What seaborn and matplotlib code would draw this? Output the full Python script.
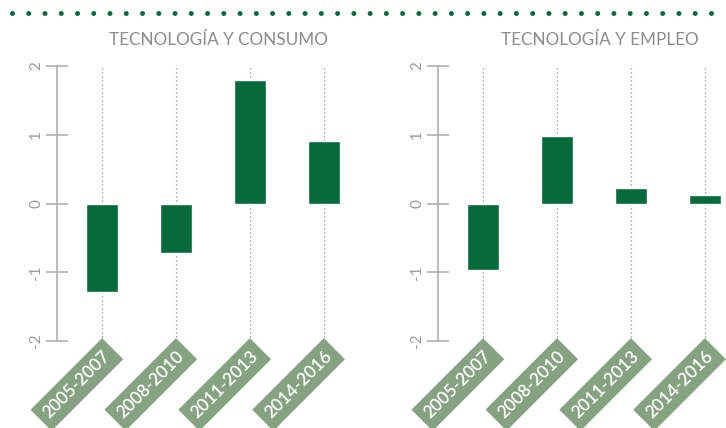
import numpy as np
import pandas as pd
import matplotlib
matplotlib.use("Agg")
import matplotlib.pyplot as plt
from matplotlib.lines import Line2D
import seaborn as sns

# datos
periodos = ['2005-2007', '2008-2010', '2011-2013', '2014-2016']
consumo = [-1.28, -0.72, 1.80, 0.91]
empleo = [-0.97, 0.98, 0.22, 0.13]
titulos = ['TECNOLOGÍA Y CONSUMO', 'TECNOLOGÍA Y EMPLEO']
yticks = [-2, -1, 0, 1, 2]

VERDE = '#066b3a'
VERDE_CLARO = '#86a381'
GRIS = '#9a9a9a'

sns.set_style('white')
plt.rcParams['font.family'] = ['Lato', 'DejaVu Sans']


def panel(ax, valores, titulo):
    df = pd.DataFrame({'periodo': periodos, 'valor': valores})
    # lineas punteadas detras de las barras
    ax.vlines(range(len(periodos)), -2, 2, colors='#8a8a8a',
              linestyles=(0, (1, 2.2)), linewidth=0.9, zorder=0)
    sns.barplot(data=df, x='periodo', y='valor', ax=ax, color=VERDE,
                saturation=1, width=0.43, zorder=2)
    ax.set_ylim(-2, 2)
    ax.set_xlim(-0.61, 3.3)
    ax.set_xlabel('')
    ax.set_ylabel('')
    for s in ['top', 'right', 'bottom']:
        ax.spines[s].set_visible(False)
    ax.spines['left'].set_color('#b0b0b0')
    ax.spines['left'].set_linewidth(1.2)
    ax.set_yticks(yticks)
    ax.set_yticklabels([str(t) for t in yticks], rotation=90, va='center',
                       color=GRIS, fontsize=11)
    ax.tick_params(axis='y', left=True, direction='inout', length=16,
                   width=1.2, color='#b0b0b0', pad=2)
    ax.set_xticks(range(len(periodos)))
    ax.set_xticklabels(periodos, rotation=45, ha='right', va='top',
                       rotation_mode='anchor', color='white', fontsize=12.5,
                       fontweight='semibold',
                       bbox=dict(boxstyle='square,pad=0.4', fc=VERDE_CLARO,
                                 ec='none'))
    ax.tick_params(axis='x', length=0, pad=5)
    ax.annotate(titulo, xy=(1.58, 1), xycoords=('data', 'axes fraction'),
                xytext=(0, 19), textcoords='offset points', ha='center',
                va='center', fontsize=12.3, color='#8c8c8c')


def main():
    fig = plt.figure(figsize=(7.26, 4.28), dpi=100)
    W, H = 726, 428
    ax1 = fig.add_axes([57 / W, 87 / H, 289 / W, 275 / H])
    ax2 = fig.add_axes([438 / W, 87 / H, 289 / W, 275 / H])
    panel(ax1, consumo, titulos[0])
    panel(ax2, empleo, titulos[1])

    # fila de puntos verdes arriba
    fig.add_artist(Line2D([12 / W, 1.0], [1 - 13 / H, 1 - 13 / H],
                          transform=fig.transFigure, color=VERDE,
                          linewidth=3.6, linestyle=(0, (0.001, 3.25)),
                          dash_capstyle='round'))

    fig.savefig('out.png', dpi=100)


if __name__ == '__main__':
    main()
